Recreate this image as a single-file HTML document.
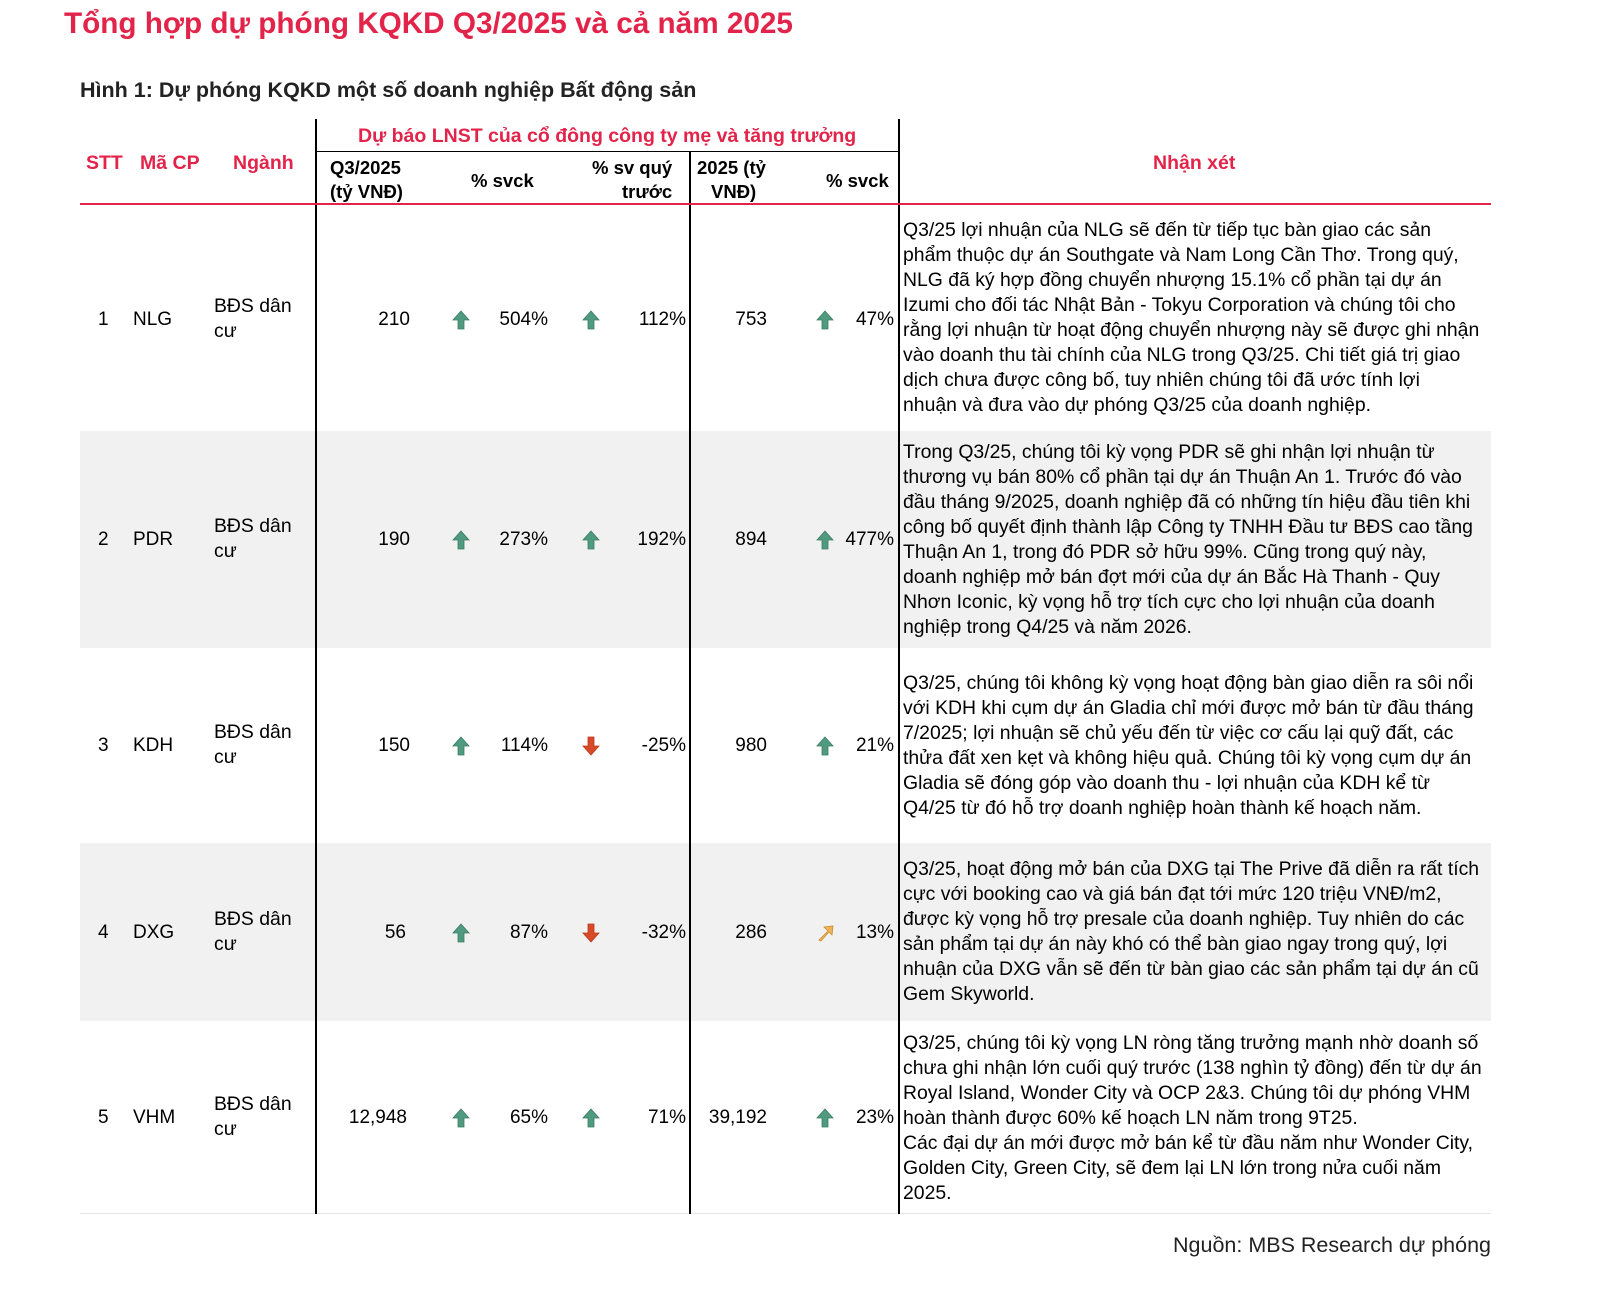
<!DOCTYPE html>
<html><head><meta charset="utf-8">
<style>
*{margin:0;padding:0;box-sizing:border-box}
body{width:1600px;height:1291px;background:#fff;position:relative;font-family:"Liberation Sans",Arial,sans-serif;color:#000;overflow:hidden}
.a{position:absolute;white-space:nowrap}
.r{color:#e3244a;font-weight:bold}
.h{font-weight:bold;font-size:18.5px;line-height:24px}
.t{font-size:19.4px;line-height:25px}
.band{position:absolute;left:80px;width:1411px;background:#f1f1f1}
.vl{position:absolute;width:2px;background:#000}
.num{position:absolute;font-size:19px;text-align:right;white-space:nowrap;line-height:20px}
.ic{position:absolute;width:18px;height:20px}
</style></head><body>
<div class="a r" style="left:64px;top:7px;font-size:29.7px">Tổng hợp dự phóng KQKD Q3/2025 và cả năm 2025</div>
<div class="a" style="left:80px;top:78px;font-size:21.5px;font-weight:bold;color:#222">Hình 1: Dự phóng KQKD một số doanh nghiệp Bất động sản</div>

<div class="band" style="top:431px;height:217px"></div>
<div class="band" style="top:843px;height:178px"></div>
<div style="position:absolute;left:80px;top:1213px;width:1411px;height:1px;background:#e6e6e6"></div>

<div class="vl" style="left:315px;top:119px;height:1095px"></div>
<div class="vl" style="left:689px;top:152px;height:1062px"></div>
<div class="vl" style="left:898px;top:119px;height:1095px"></div>
<div style="position:absolute;left:316px;top:151px;width:583px;height:1px;background:#000"></div>
<div style="position:absolute;left:80px;top:203px;width:1411px;height:2px;background:#e3244a"></div>

<div class="a r" style="left:358px;top:125px;font-size:19.5px">Dự báo LNST của cổ đông công ty mẹ và tăng trưởng</div>
<div class="a r" style="left:86px;top:152px;font-size:19.5px">STT</div>
<div class="a r" style="left:140px;top:152px;font-size:19.5px">Mã CP</div>
<div class="a r" style="left:233px;top:152px;font-size:19.5px">Ngành</div>
<div class="a r" style="left:1153px;top:152px;font-size:19.5px">Nhận xét</div>
<div class="a h" style="left:330px;top:156px">Q3/2025<br>(tỷ VNĐ)</div>
<div class="a h" style="left:471px;top:169px">% svck</div>
<div class="a h" style="left:592px;top:156px;text-align:right">% sv quý<br><span style="padding-left:17px">trước</span></div>
<div class="a h" style="left:697px;top:156px">2025 (tỷ<br><span style="padding-left:14px">VNĐ)</span></div>
<div class="a h" style="left:826px;top:169px">% svck</div>

<svg width="0" height="0" style="position:absolute">
<defs>
<g id="up"><path d="M9 1 L17 10 L12 10 L12 19 L6 19 L6 10 L1 10 Z" fill="#4f9a80" stroke="#3b7d63" stroke-width="0.8"/></g>
<g id="dn"><path d="M9 19 L17 10 L12 10 L12 1 L6 1 L6 10 L1 10 Z" fill="#d84a27" stroke="#b83a1c" stroke-width="0.8"/></g>
<g id="dg"><path d="M3 17 L12 8 L8 4 L17 3 L16 12 L13 9 L5 18 Z" fill="#efb45a" stroke="#c98d30" stroke-width="0.8"/></g>
</defs></svg>

<!-- row 1 -->
<div class="num" style="left:98px;top:310px">1</div>
<div class="num" style="left:133px;top:310px">NLG</div>
<div class="a t" style="left:214px;top:294px">BĐS dân<br>cư</div>
<div class="num" style="left:330px;width:80px;top:310px">210</div>
<svg class="ic" style="left:452px;top:310px"><use href="#up"/></svg>
<div class="num" style="left:470px;width:78px;top:310px">504%</div>
<svg class="ic" style="left:582px;top:310px"><use href="#up"/></svg>
<div class="num" style="left:600px;width:86px;top:310px">112%</div>
<div class="num" style="left:700px;width:67px;top:310px">753</div>
<svg class="ic" style="left:816px;top:310px"><use href="#up"/></svg>
<div class="num" style="left:840px;width:54px;top:310px">47%</div>
<div class="a t" style="left:903px;top:218px">Q3/25 lợi nhuận của NLG sẽ đến từ tiếp tục bàn giao các sản<br>phẩm thuộc dự án Southgate và Nam Long Cần Thơ. Trong quý,<br>NLG đã ký hợp đồng chuyển nhượng 15.1% cổ phần tại dự án<br>Izumi cho đối tác Nhật Bản - Tokyu Corporation và chúng tôi cho<br>rằng lợi nhuận từ hoạt động chuyển nhượng này sẽ được ghi nhận<br>vào doanh thu tài chính của NLG trong Q3/25. Chi tiết giá trị giao<br>dịch chưa được công bố, tuy nhiên chúng tôi đã ước tính lợi<br>nhuận và đưa vào dự phóng Q3/25 của doanh nghiệp.</div>

<!-- row 2 -->
<div class="num" style="left:98px;top:530px">2</div>
<div class="num" style="left:133px;top:530px">PDR</div>
<div class="a t" style="left:214px;top:514px">BĐS dân<br>cư</div>
<div class="num" style="left:330px;width:80px;top:530px">190</div>
<svg class="ic" style="left:452px;top:530px"><use href="#up"/></svg>
<div class="num" style="left:470px;width:78px;top:530px">273%</div>
<svg class="ic" style="left:582px;top:530px"><use href="#up"/></svg>
<div class="num" style="left:600px;width:86px;top:530px">192%</div>
<div class="num" style="left:700px;width:67px;top:530px">894</div>
<svg class="ic" style="left:816px;top:530px"><use href="#up"/></svg>
<div class="num" style="left:840px;width:54px;top:530px">477%</div>
<div class="a t" style="left:903px;top:440px">Trong Q3/25, chúng tôi kỳ vọng PDR sẽ ghi nhận lợi nhuận từ<br>thương vụ bán 80% cổ phần tại dự án Thuận An 1. Trước đó vào<br>đầu tháng 9/2025, doanh nghiệp đã có những tín hiệu đầu tiên khi<br>công bố quyết định thành lập Công ty TNHH Đầu tư BĐS cao tầng<br>Thuận An 1, trong đó PDR sở hữu 99%. Cũng trong quý này,<br>doanh nghiệp mở bán đợt mới của dự án Bắc Hà Thanh - Quy<br>Nhơn Iconic, kỳ vọng hỗ trợ tích cực cho lợi nhuận của doanh<br>nghiệp trong Q4/25 và năm 2026.</div>

<!-- row 3 -->
<div class="num" style="left:98px;top:736px">3</div>
<div class="num" style="left:133px;top:736px">KDH</div>
<div class="a t" style="left:214px;top:720px">BĐS dân<br>cư</div>
<div class="num" style="left:330px;width:80px;top:736px">150</div>
<svg class="ic" style="left:452px;top:736px"><use href="#up"/></svg>
<div class="num" style="left:470px;width:78px;top:736px">114%</div>
<svg class="ic" style="left:582px;top:736px"><use href="#dn"/></svg>
<div class="num" style="left:600px;width:86px;top:736px">-25%</div>
<div class="num" style="left:700px;width:67px;top:736px">980</div>
<svg class="ic" style="left:816px;top:736px"><use href="#up"/></svg>
<div class="num" style="left:840px;width:54px;top:736px">21%</div>
<div class="a t" style="left:903px;top:671px">Q3/25, chúng tôi không kỳ vọng hoạt động bàn giao diễn ra sôi nổi<br>với KDH khi cụm dự án Gladia chỉ mới được mở bán từ đầu tháng<br>7/2025; lợi nhuận sẽ chủ yếu đến từ việc cơ cấu lại quỹ đất, các<br>thửa đất xen kẹt và không hiệu quả. Chúng tôi kỳ vọng cụm dự án<br>Gladia sẽ đóng góp vào doanh thu - lợi nhuận của KDH kể từ<br>Q4/25 từ đó hỗ trợ doanh nghiệp hoàn thành kế hoạch năm.</div>

<!-- row 4 -->
<div class="num" style="left:98px;top:923px">4</div>
<div class="num" style="left:133px;top:923px">DXG</div>
<div class="a t" style="left:214px;top:907px">BĐS dân<br>cư</div>
<div class="num" style="left:330px;width:76px;top:923px">56</div>
<svg class="ic" style="left:452px;top:923px"><use href="#up"/></svg>
<div class="num" style="left:470px;width:78px;top:923px">87%</div>
<svg class="ic" style="left:582px;top:923px"><use href="#dn"/></svg>
<div class="num" style="left:600px;width:86px;top:923px">-32%</div>
<div class="num" style="left:700px;width:67px;top:923px">286</div>
<svg class="ic" style="left:816px;top:923px"><use href="#dg"/></svg>
<div class="num" style="left:840px;width:54px;top:923px">13%</div>
<div class="a t" style="left:903px;top:857px">Q3/25, hoạt động mở bán của DXG tại The Prive đã diễn ra rất tích<br>cực với booking cao và giá bán đạt tới mức 120 triệu VNĐ/m2,<br>được kỳ vọng hỗ trợ presale của doanh nghiệp. Tuy nhiên do các<br>sản phẩm tại dự án này khó có thể bàn giao ngay trong quý, lợi<br>nhuận của DXG vẫn sẽ đến từ bàn giao các sản phẩm tại dự án cũ<br>Gem Skyworld.</div>

<!-- row 5 -->
<div class="num" style="left:98px;top:1108px">5</div>
<div class="num" style="left:133px;top:1108px">VHM</div>
<div class="a t" style="left:214px;top:1092px">BĐS dân<br>cư</div>
<div class="num" style="left:330px;width:77px;top:1108px">12,948</div>
<svg class="ic" style="left:452px;top:1108px"><use href="#up"/></svg>
<div class="num" style="left:470px;width:78px;top:1108px">65%</div>
<svg class="ic" style="left:582px;top:1108px"><use href="#up"/></svg>
<div class="num" style="left:600px;width:86px;top:1108px">71%</div>
<div class="num" style="left:700px;width:67px;top:1108px">39,192</div>
<svg class="ic" style="left:816px;top:1108px"><use href="#up"/></svg>
<div class="num" style="left:840px;width:54px;top:1108px">23%</div>
<div class="a t" style="left:903px;top:1031px">Q3/25, chúng tôi kỳ vọng LN ròng tăng trưởng mạnh nhờ doanh số<br>chưa ghi nhận lớn cuối quý trước (138 nghìn tỷ đồng) đến từ dự án<br>Royal Island, Wonder City và OCP 2&amp;3. Chúng tôi dự phóng VHM<br>hoàn thành được 60% kế hoạch LN năm trong 9T25.<br>Các đại dự án mới được mở bán kể từ đầu năm như Wonder City,<br>Golden City, Green City, sẽ đem lại LN lớn trong nửa cuối năm<br>2025.</div>

<div class="a" style="right:109px;top:1233px;font-size:21.5px;color:#222">Nguồn: MBS Research dự phóng</div>
</body></html>
